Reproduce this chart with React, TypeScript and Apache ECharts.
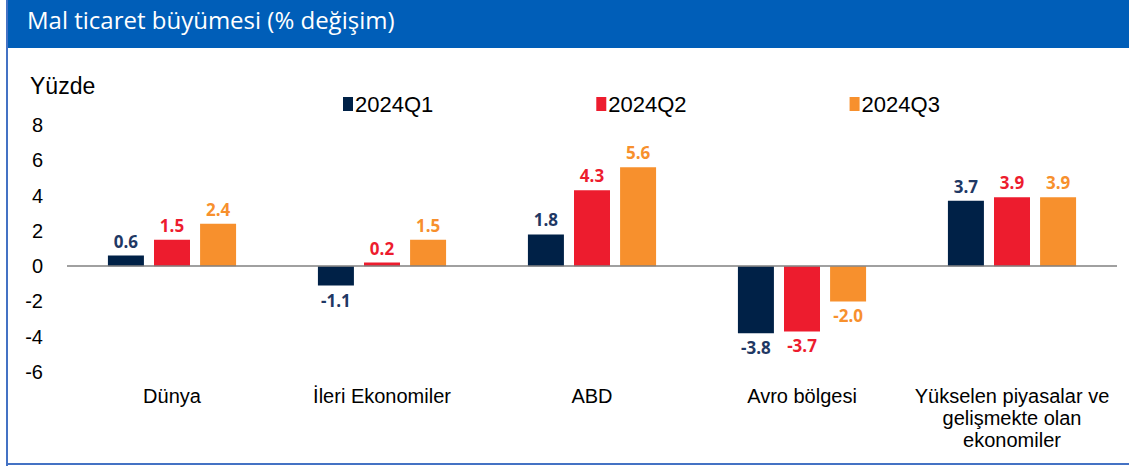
import React, { useEffect, useRef } from "react";
import * as echarts from "echarts";

const categories = ["Dünya", "İleri Ekonomiler", "ABD", "Avro bölgesi", "Yükselen piyasalar ve\ngelişmekte olan\nekonomiler"];
const seriesNames = ["2024Q1", "2024Q2", "2024Q3"];
const q1 = [0.6, -1.1, 1.8, -3.8, 3.7];
const q2 = [1.5, 0.2, 4.3, -3.7, 3.9];
const q3 = [2.4, 1.5, 5.6, -2.0, 3.9];
const colors = ["#002147", "#ED1C2E", "#F7902D"];
const labelColors = ["#1F3864", "#ED1C2E", "#F7902D"];
const yMin = -6;
const yMax = 8;
const yInterval = 2;

export default function App() {
  const ref = useRef<HTMLDivElement>(null);
  useEffect(() => {
    if (!ref.current) return;
    const chart = echarts.init(ref.current, undefined, { renderer: "svg" });
    const all = [q1, q2, q3];
    chart.setOption({
      animation: false,
      backgroundColor: "#ffffff",
      graphic: [
        { type: "rect", left: 7, top: 0, shape: { width: 1122, height: 48 }, style: { fill: "#005EB8" }, z: 0 },
        { type: "rect", left: 6, top: 0, shape: { width: 2, height: 466 }, style: { fill: "#4472C4" }, z: 1 },
        { type: "rect", left: 6, top: 463, shape: { width: 1123, height: 2 }, style: { fill: "#4472C4" }, z: 1 },
        {
          type: "text", left: 27, top: 7,
          style: { text: "Mal ticaret büyümesi (% değişim)", fill: "#ffffff", font: "24px 'Open Sans'" }, z: 2,
        },
        {
          type: "text", left: 30, top: 74,
          style: { text: "Yüzde", fill: "#000000", font: "23px 'Liberation Sans'" }, z: 2,
        },
      ],
      legend: {
        left: 338, top: 88, itemGap: 163, icon: "rect", itemWidth: 10, itemHeight: 14,
        textStyle: { fontFamily: "Liberation Sans", fontSize: 22, color: "#000", padding: [0, 0, 0, -3] },
        data: seriesNames,
      },
      grid: { left: 67, right: 12, top: 125, bottom: 94, containLabel: false },
      xAxis: {
        type: "category", data: categories,
        axisLine: { show: false }, axisTick: { show: false },
        axisLabel: { fontFamily: "Liberation Sans", fontSize: 20, color: "#000", lineHeight: 22, margin: 13, interval: 0 },
      },
      yAxis: {
        type: "value", min: yMin, max: yMax, interval: yInterval,
        splitLine: { show: false }, axisLine: { show: false }, axisTick: { show: false },
        axisLabel: { fontFamily: "Liberation Sans", fontSize: 20, color: "#000", margin: 24 },
      },
      series: seriesNames.map((name, i) => ({
        name, type: "bar", barWidth: 36, barGap: "28%",
        itemStyle: { color: colors[i] },
        data: all[i].map((v) => ({
          value: v,
          label: { position: v < 0 ? "bottom" : "top" },
        })),
        label: {
          show: true, distance: 6, color: labelColors[i], fontFamily: "Open Sans", fontWeight: "bold", fontSize: 17,
          formatter: (p: any) => Number(p.value).toFixed(1),
        },
        markLine: i === 0 ? {
          silent: true, symbol: "none", label: { show: false },
          lineStyle: { color: "#808080", width: 1.5, type: "solid" },
          data: [{ yAxis: 0 }],
        } : undefined,
      })),
    });
    return () => chart.dispose();
  }, []);
  return <div ref={ref} style={{ position: "absolute", left: 0, top: 0, width: 1129, height: 466 }} />;
}
